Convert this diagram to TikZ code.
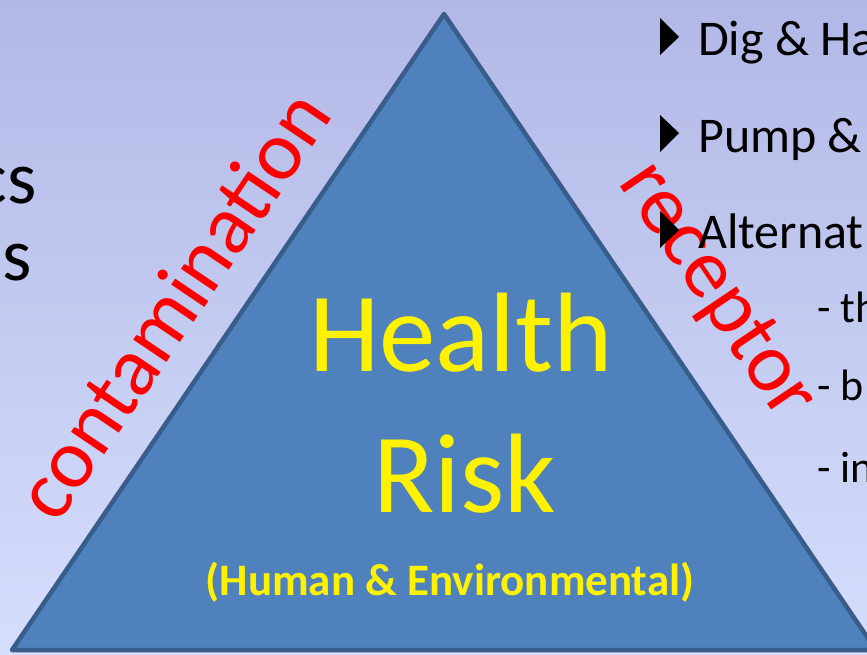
\documentclass[tikz,border=0pt]{standalone}
\usepackage{fontspec}
\setmainfont{Carlito}
\definecolor{bgtop}{RGB}{178,184,230}
\definecolor{bgbot}{RGB}{213,222,252}
\definecolor{trifill}{RGB}{79,129,189}
\definecolor{triedge}{RGB}{56,93,138}
\tikzset{
  yel/.style={text=yellow, inner sep=0pt},
  redlab/.style={text=red, inner sep=0pt, font=\fontsize{84}{84}\selectfont},
  bul/.style={inner sep=0pt, anchor=base west, font=\fontsize{50}{50}\selectfont},
  sub/.style={inner sep=0pt, anchor=base west, font=\fontsize{44}{44}\selectfont},
  lefttxt/.style={inner sep=0pt, anchor=base east, font=\fontsize{75}{75}\selectfont},
  arrowhd/.style={fill=black}
}
\begin{document}
\begin{tikzpicture}[x=1pt,y=-1pt]
\useasboundingbox (0,0) rectangle (867,654);
\clip (0,0) rectangle (867,654);
\shade[top color=bgtop, bottom color=bgbot] (0,0) rectangle (867,654);
% triangle
\coordinate (apex) at (444,14);
\coordinate (bl) at (12,650);
\coordinate (br) at (876,650);
\draw[fill=trifill, draw=triedge, line width=4.5pt, line join=round] (apex) -- (bl) -- (br) -- cycle;
% left text
\node[lefttxt] (cs) at (37,203) {cs};
\node[lefttxt] (es) at (32,280) {es};
% central text
\node[yel, anchor=base, font=\fontsize{113}{113}\selectfont] (health) at (461,371) {Health};
\node[yel, anchor=base, font=\fontsize{113}{113}\selectfont] (risk) at (465,512) {Risk};
\node[yel, anchor=base, font=\bfseries\fontsize{45}{45}\selectfont] (human) at (450,595) {(Human \& Environmental)};
% red side labels
\node[redlab, rotate=56] (contam) at (172,304) {contamination};
\node[redlab, rotate=-56] (recep) at (716,292) {receptor};
% bullets
\fill[arrowhd] (660,18) -- (679,37) -- (660,55) -- cycle;
\fill[arrowhd] (660,115) -- (679,133) -- (660,152) -- cycle;
\fill[arrowhd] (660,211) -- (679,230) -- (660,248) -- cycle;
\node[bul] (b1) at (698,55) {Dig \& Ha};
\node[bul] (b2) at (698,152) {Pump \&};
\node[bul] (b3) at (698,248) {Alternat};
\node[sub] (s1) at (817,322) {- th};
\node[sub] (s2) at (817,400) {- b};
\node[sub] (s3) at (817,482) {- in};
\end{tikzpicture}
\end{document}
